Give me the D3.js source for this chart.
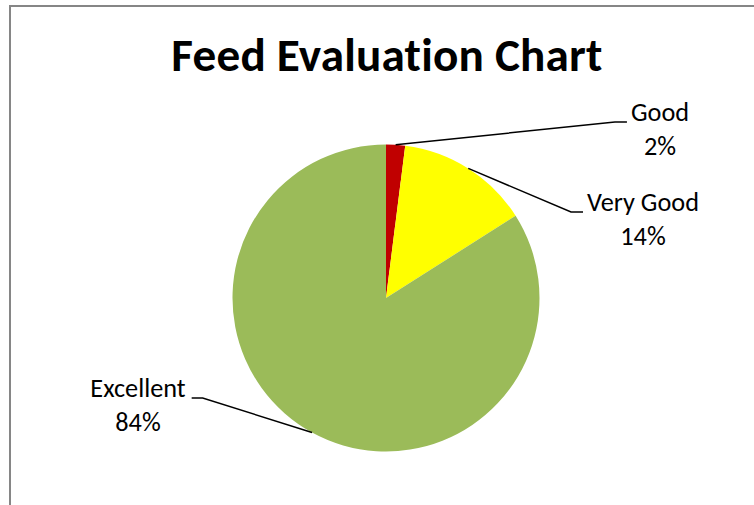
<!DOCTYPE html>
<html>
<head>
<meta charset="utf-8">
<script src="https://cdn.jsdelivr.net/npm/d3@7"></script>
<style>
  html, body { margin: 0; padding: 0; background: #fff; overflow: hidden; }
  text { font-variant-ligatures: none; font-feature-settings: "liga" 0, "clig" 0, "dlig" 0, "calt" 0; }
</style>
</head>
<body>
<div id="chart"></div>
<script>
// data
const categories = ['Good', 'Very Good', 'Excellent'];
const values = [2, 14, 84];
const colors = ['#C00000', '#FFFF00', '#9BBB59'];

const chart_width = 754;
const chart_height = 505;
const cx = 386;
const cy = 298;
const radius = 153.5;
const font = 'Carlito, Lato, "Open Sans", sans-serif';

// label anchors (center x, first baseline y)
const label_pos = [
    { x: 660, y: 121, side: 'right' },
    { x: 643, y: 211, side: 'right' },
    { x: 138, y: 397, side: 'left' }
];

const svg = d3.select('#chart')
    .append('svg')
    .attr('width', chart_width)
    .attr('height', chart_height);

svg.append('rect')
    .attr('width', chart_width)
    .attr('height', chart_height)
    .attr('fill', '#fff');

// chart border (cut off by window on right and bottom)
svg.append('rect')
    .attr('x', 10)
    .attr('y', 6)
    .attr('width', chart_width + 20)
    .attr('height', chart_height + 20)
    .attr('fill', 'none')
    .attr('stroke', '#868686')
    .attr('stroke-width', 2);

// title (small letter-spacing keeps Lato from joining "ti")
const title = svg.append('text')
    .attr('x', cx + 1)
    .attr('y', 71)
    .attr('text-anchor', 'middle')
    .attr('font-family', font)
    .attr('font-weight', 700)
    .attr('font-size', 42)
    .attr('letter-spacing', 0.2)
    .attr('fill', '#000')
    .text('Feed Evaluation Chart');
const tw = title.node().getComputedTextLength();
title.attr('font-size', 42 * 432 / tw);

const pie = d3.pie().sort(null).value(d => d)(values);
const arc = d3.arc().innerRadius(0).outerRadius(radius);

const g = svg.append('g').attr('transform', `translate(${cx},${cy})`);

g.selectAll('path')
    .data(pie)
    .enter()
    .append('path')
    .attr('d', arc)
    .attr('fill', (d, i) => colors[i]);

const total = d3.sum(values);

// labels
const labels = svg.selectAll('text.lbl')
    .data(pie)
    .enter()
    .append('text')
    .attr('class', 'lbl')
    .attr('text-anchor', 'middle')
    .attr('font-family', font)
    .attr('font-size', 25)
    .attr('fill', '#000');

labels.append('tspan')
    .attr('x', (d, i) => label_pos[i].x)
    .attr('y', (d, i) => label_pos[i].y)
    .text((d, i) => categories[i]);
labels.append('tspan')
    .attr('x', (d, i) => label_pos[i].x)
    .attr('y', (d, i) => label_pos[i].y + 34)
    .text(d => Math.round(d.value / total * 100) + '%');

// fit font to "Very Good" width
const vg = labels.filter((d, i) => i === 1).select('tspan').node().getComputedTextLength();
const lbl_size = 25 * 112 / vg;
labels.attr('font-size', lbl_size);

// leader lines
const line = d3.line();
labels.each(function(d, i) {
    const first = d3.select(this).select('tspan').node();
    const w = first.getComputedTextLength();
    const mid = (d.startAngle + d.endAngle) / 2;
    const p0 = [cx + radius * Math.sin(mid), cy - radius * Math.cos(mid)];
    const p = label_pos[i];
    const ly = p.y + 1;
    let pts;
    if (p.side === 'right') {
        const ex = p.x - w / 2 - 4;
        pts = [p0, [ex - 12, ly], [ex, ly]];
    } else {
        const ex = p.x + w / 2 + 6;
        pts = [p0, [ex + 11, ly], [ex, ly]];
    }
    svg.append('path')
        .attr('d', line(pts))
        .attr('fill', 'none')
        .attr('stroke', '#000')
        .attr('stroke-width', 1.5);
});
</script>
</body>
</html>
